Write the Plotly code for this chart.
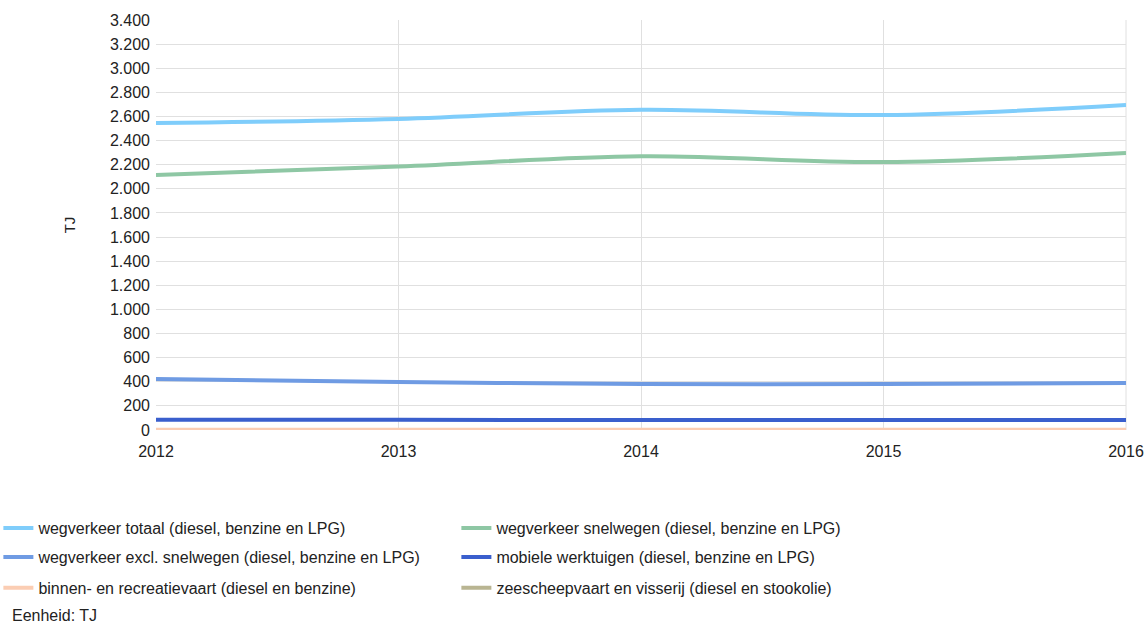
import plotly.graph_objects as go

years = [2012, 2013, 2014, 2015, 2016]
wegverkeer_totaal = [2545, 2580, 2655, 2612, 2695]
wegverkeer_snelwegen = [2115, 2185, 2270, 2222, 2297]
wegverkeer_excl = [423, 398, 381, 381, 390]
mobiele_werktuigen = [85, 84, 83, 82, 82]
binnenvaart = [3, 3, 3, 3, 3]
zeescheepvaart = [1, 1, 1, 1, 1]

names = [
    "wegverkeer totaal (diesel, benzine en LPG)",
    "wegverkeer snelwegen (diesel, benzine en LPG)",
    "wegverkeer excl. snelwegen (diesel, benzine en LPG)",
    "mobiele werktuigen (diesel, benzine en LPG)",
    "binnen- en recreatievaart (diesel en benzine)",
    "zeescheepvaart en visserij (diesel en stookolie)",
]
series = [wegverkeer_totaal, wegverkeer_snelwegen, wegverkeer_excl,
          mobiele_werktuigen, binnenvaart, zeescheepvaart]
colors = ["#7fcdfb", "#8ec7a4", "#6f9be3", "#3a5fcd", "#fbcdb3", "#b9b592"]
legends = ["legend", "legend", "legend2", "legend2", "legend3", "legend3"]

FONT = "Liberation Sans, Arial"
TXT = "#222222"

fig = go.Figure()
# draw the bottom series first so the peach line ends up on top of the khaki one
for i in [5, 4, 3, 2, 1, 0]:
    fig.add_trace(go.Scatter(
        x=years, y=series[i], name=names[i], mode="lines",
        line=dict(color=colors[i], width=4, shape="spline"),
        legend=legends[i], legendrank=i + 1,
    ))

leg_common = dict(orientation="h", xanchor="left", yanchor="middle",
                  entrywidth=413, entrywidthmode="pixels",
                  font=dict(family=FONT, size=16, color=TXT),
                  bgcolor="rgba(0,0,0,0)", itemwidth=30, traceorder="normal")

fig.update_layout(
    width=1147, height=626,
    margin=dict(l=156, r=21, t=20, b=196, autoexpand=False),
    paper_bgcolor="white", plot_bgcolor="white",
    font=dict(family=FONT, size=16, color=TXT),
    separators=",.",
    showlegend=True,
    legend=dict(x=-0.1625, y=-0.239, **leg_common),
    legend2=dict(x=-0.1625, y=-0.310, **leg_common),
    legend3=dict(x=-0.1625, y=-0.385, **leg_common),
    xaxis=dict(range=[2012, 2016], tickvals=years, ticktext=[str(y) for y in years],
               showgrid=True, gridcolor="#e0e0e0", gridwidth=1,
               zeroline=False, showline=False, ticks="", ticklabelstandoff=10,
               tickfont=dict(family=FONT, size=16, color=TXT), automargin=False),
    yaxis=dict(range=[0, 3400], dtick=200, tickformat=",d", separatethousands=True,
               showgrid=True, gridcolor="#e0e0e0", gridwidth=1,
               zeroline=False, showline=False, ticks="", automargin=False,
               ticklabelstandoff=5,
               title=dict(text="TJ", font=dict(family=FONT, size=15, color=TXT), standoff=30),
               tickfont=dict(family=FONT, size=16, color=TXT)),
    annotations=[dict(text="Eenheid: TJ", xref="paper", yref="paper",
                      x=-0.1505, y=-0.4535, xanchor="left", yanchor="middle",
                      showarrow=False, font=dict(family=FONT, size=16, color=TXT))],
)
fig.add_shape(type="line", xref="paper", yref="paper", x0=1, x1=1, y0=0, y1=1,
              line=dict(color="#e0e0e0", width=1), layer="below")

# remove the default 8px page margin so the figure fills the window exactly
fig.write_html("out.html",
               config={"displayModeBar": False},
               post_script="document.body.style.margin='0';document.body.style.overflow='hidden';")
